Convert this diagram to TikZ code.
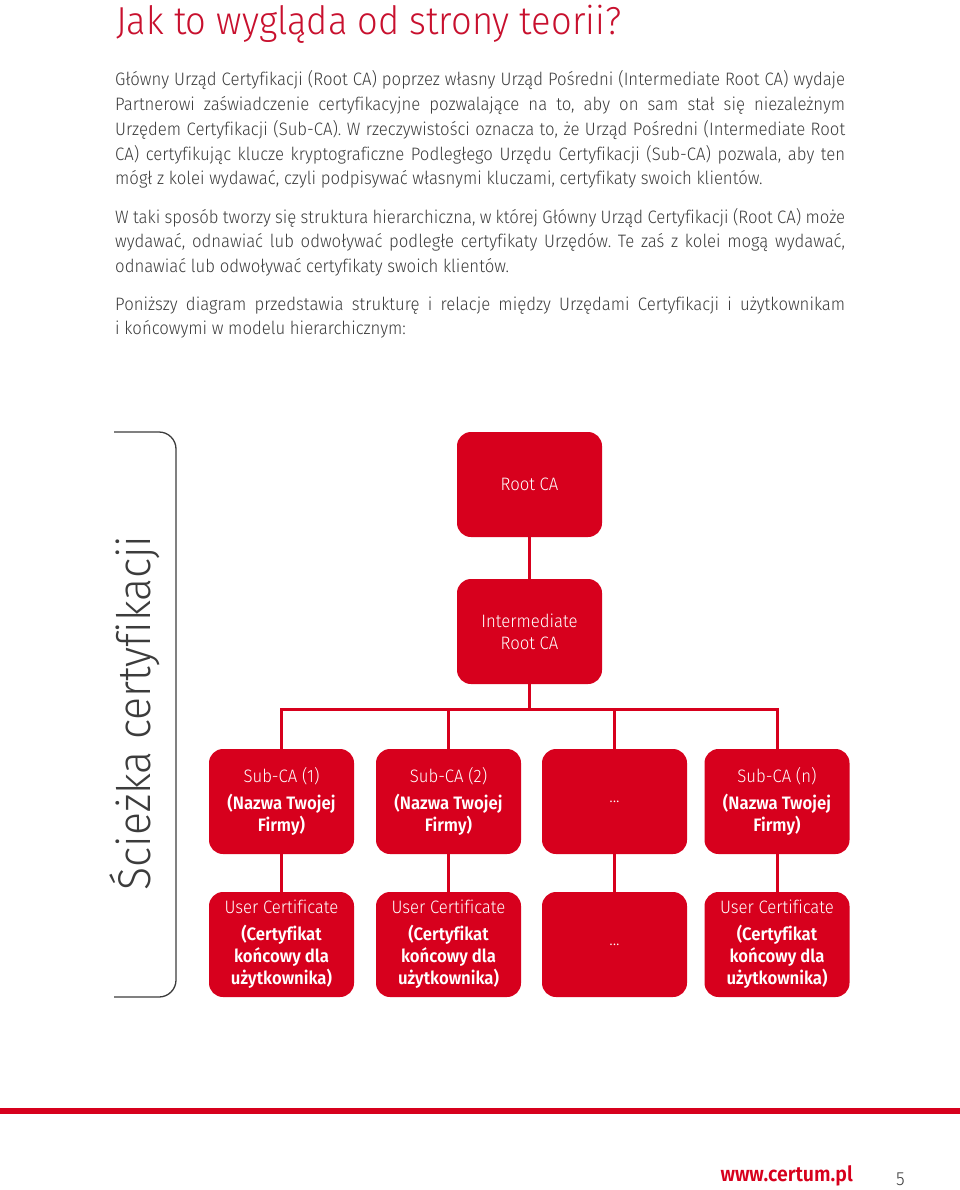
\documentclass[tikz,border=0pt]{standalone}
\usepackage{fontspec}
\setmainfont{Fira Sans}[UprightFont=* Light, BoldFont=* SemiBold, FakeStretch=0.93, Ligatures=NoCommon]
\definecolor{cred}{HTML}{D7001D}
\definecolor{tred}{HTML}{C8102E}
\definecolor{tgray}{HTML}{3C3C3C}
\newcommand{\jline}[1]{\makebox[730pt][s]{#1}\par}
\frenchspacing
\begin{document}
\begin{tikzpicture}[x=1pt,y=-1pt,
  cabox/.style={fill=cred, rounded corners=14pt, minimum width=145pt, minimum height=105pt,
    text=white, align=center, inner sep=0pt, font=\fontsize{18}{22}\selectfont},
  conn/.style={draw=cred, line width=3pt},
  para/.style={anchor=base west, inner sep=0pt, text=tgray},
  bracket/.style={draw=tgray, line width=1.3pt, rounded corners=17pt}]
\useasboundingbox (0,0) rectangle (960,1190);
\fill[white] (0,0) rectangle (960,1190);

\node[anchor=base west, inner sep=0pt, text=tred, font=\fontsize{39}{44}\selectfont] (title) at (116,35) {Jak to wygląda od strony teorii?};

\node[para, font=\fontsize{18}{24.75}\selectfont] (p1) at (115,86) {\parbox[t]{730pt}{%
\jline{Główny Urząd Certyfikacji (Root CA) poprzez własny Urząd Pośredni (Intermediate Root CA) wydaje}%
\jline{Partnerowi zaświadczenie certyfikacyjne pozwalające na to, aby on sam stał się niezależnym}%
\jline{Urzędem Certyfikacji (Sub-CA). W rzeczywistości oznacza to, że Urząd Pośredni (Intermediate Root}%
\jline{CA) certyfikując klucze kryptograficzne Podległego Urzędu Certyfikacji (Sub-CA) pozwala, aby ten}%
mógł z kolei wydawać, czyli podpisywać własnymi kluczami, certyfikaty swoich klientów.}};

\node[para, font=\fontsize{18}{24}\selectfont] (p2) at (115,224) {\parbox[t]{730pt}{%
\jline{W taki sposób tworzy się struktura hierarchiczna, w której Główny Urząd Certyfikacji (Root CA) może}%
\jline{wydawać, odnawiać lub odwoływać podległe certyfikaty Urzędów. Te zaś z kolei mogą wydawać,}%
odnawiać lub odwoływać certyfikaty swoich klientów.}};

\node[para, font=\fontsize{18}{24}\selectfont] (p3) at (115,310) {\parbox[t]{730pt}{%
\jline{Poniższy diagram przedstawia strukturę i relacje między Urzędami Certyfikacji i użytkownikam}%
i końcowymi w modelu hierarchicznym:}};

% bracket and vertical label
\draw[bracket] (114,432) -- (176,432) -- (176,997) -- (114,997);
\node[rotate=90, anchor=base, inner sep=0pt, text=tgray, font=\fontsize{46}{50}\selectfont] (path) at (150,713) {Ścieżka certyfikacji};

% boxes
\node[cabox] (root) at (529.5,484.5) {Root CA};
\node[cabox] (inter) at (529.5,631.5) {Intermediate\\Root CA};

\node[cabox] (s1) at (281.5,801.5) {Sub-CA (1)\\[5pt]\textbf{(Nazwa Twojej}\\\textbf{Firmy)}};
\node[cabox] (s2) at (448.5,801.5) {Sub-CA (2)\\[5pt]\textbf{(Nazwa Twojej}\\\textbf{Firmy)}};
\node[cabox] (s3) at (614.5,801.5) {...};
\node[cabox] (s4) at (777,801.5) {Sub-CA (n)\\[5pt]\textbf{(Nazwa Twojej}\\\textbf{Firmy)}};

\node[cabox] (u1) at (281.5,944.5) {User Certificate\\[5pt]\textbf{(Certyfikat}\\\textbf{końcowy dla}\\\textbf{użytkownika)}};
\node[cabox] (u2) at (448.5,944.5) {User Certificate\\[5pt]\textbf{(Certyfikat}\\\textbf{końcowy dla}\\\textbf{użytkownika)}};
\node[cabox] (u3) at (614.5,944.5) {...};
\node[cabox] (u4) at (777,944.5) {User Certificate\\[5pt]\textbf{(Certyfikat}\\\textbf{końcowy dla}\\\textbf{użytkownika)}};

% connectors
\coordinate (jn) at (529.5,709);
\draw[conn] (root.south) -- (inter.north);
\draw[conn] (inter.south) -- (jn);
\draw[conn] (s1.north) -- (s1.north |- jn) -- (s4.north |- jn) -- (s4.north);
\draw[conn] (s2.north) -- (s2.north |- jn);
\draw[conn] (s3.north) -- (s3.north |- jn);
\draw[conn] (s1.south) -- (u1.north);
\draw[conn] (s2.south) -- (u2.north);
\draw[conn] (s3.south) -- (u3.north);
\draw[conn] (s4.south) -- (u4.north);

% footer
\draw[cred, line width=6pt] (0,1111) -- (960,1111);
\node[anchor=base east, inner sep=0pt, text=cred, font=\bfseries\fontsize{21}{24}\selectfont] (url) at (853,1181) {www.certum.pl};
\node[anchor=base west, inner sep=0pt, text=tgray, font=\fontsize{19}{22}\selectfont] (page) at (896,1185) {5};
\end{tikzpicture}
\end{document}
